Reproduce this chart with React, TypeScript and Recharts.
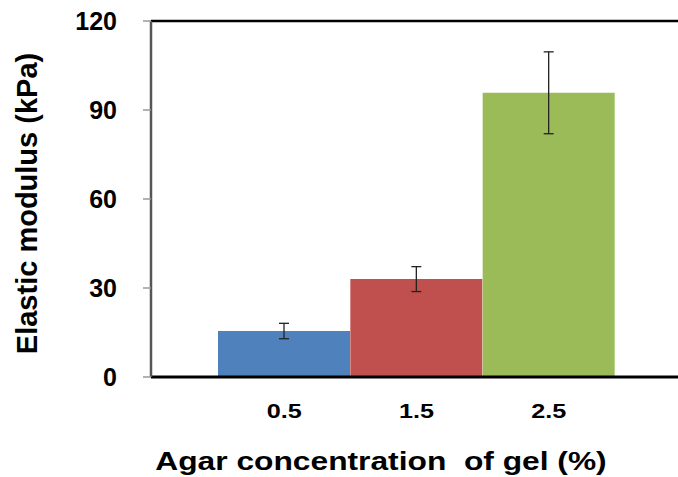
import React from 'react';
import { BarChart, Bar, XAxis, YAxis, ErrorBar, Cell, ReferenceLine } from 'recharts';

const categories = ['0.5', '1.5', '2.5'];
const modulus = [15.5, 33.0, 95.8];
const errors = [2.6, 4.2, 13.8];
const colors = ['#4F81BD', '#C0504D', '#9BBB59'];
const yTicks = [0, 30, 60, 90, 120];

const data = categories.map((c, i) => ({ name: c, value: modulus[i], err: errors[i] }));

const FONT = '"Liberation Sans", Arial, sans-serif';

const XTick = (props: any) => {
  const { x, y, payload } = props;
  return (
    <text
      transform={`translate(${x},${y + 41}) scale(1.2,1)`}
      textAnchor="middle"
      fontSize={21}
      fontWeight="bold"
      fontFamily={FONT}
      fill="#000"
    >
      {payload.value}
    </text>
  );
};

const XTitle = () => (
  <text
    transform="translate(381,470) scale(1.27,1)"
    textAnchor="middle"
    fontSize={25}
    fontWeight="bold"
    fontFamily={FONT}
    fill="#000"
    style={{ whiteSpace: 'pre' }}
  >
    {'Agar concentration  of gel (%)'}
  </text>
);

const YTitle = () => (
  <text
    transform="translate(37,203.5) rotate(-90)"
    textAnchor="middle"
    fontSize={29}
    fontWeight="bold"
    fontFamily={FONT}
    fill="#000"
  >
    Elastic modulus (kPa)
  </text>
);

export default function App() {
  return (
    <div style={{ position: 'absolute', left: 0, top: 0, width: 678, height: 477, overflow: 'hidden', background: '#fff' }}>
      <BarChart
        width={700}
        height={477}
        data={data}
        margin={{ top: 21, right: 18, bottom: 0, left: 0 }}
        barCategoryGap={0}
        barGap={0}
      >
        <XAxis
          dataKey="name"
          height={100}
          padding={{ left: 67, right: 67 }}
          tickLine={false}
          tickSize={0}
          tickMargin={0}
          axisLine={{ stroke: '#000', strokeWidth: 3 }}
          tick={<XTick />}
          label={{ content: () => <XTitle /> }}
        />
        <YAxis
          width={151}
          domain={[0, 120]}
          ticks={yTicks}
          interval={0}
          tickSize={8}
          tickMargin={26}
          tickLine={{ stroke: '#999', strokeWidth: 1.5 }}
          axisLine={{ stroke: '#555', strokeWidth: 2.5 }}
          tick={{ fontSize: 25, fontWeight: 'bold', fill: '#000', fontFamily: FONT }}
          label={{ content: () => <YTitle /> }}
        />
        <ReferenceLine y={120} stroke="#000" strokeWidth={2.5} />
        <Bar dataKey="value" isAnimationActive={false}>
          {data.map((d, i) => (
            <Cell key={d.name} fill={colors[i]} />
          ))}
          <ErrorBar dataKey="err" width={5} stroke="#222" strokeWidth={1.3} direction="y" />
        </Bar>
      </BarChart>
    </div>
  );
}
